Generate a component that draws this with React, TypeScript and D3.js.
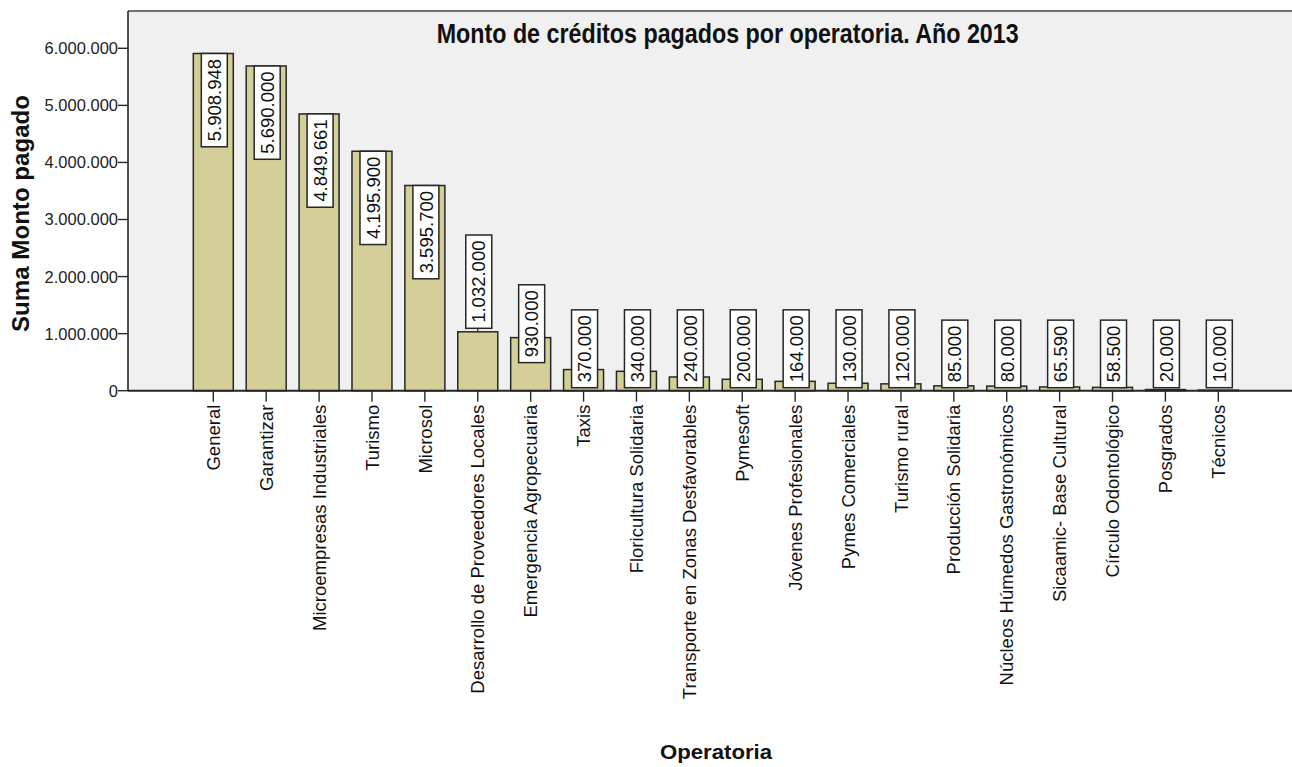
import React from "react";
import * as d3 from "d3";

const categories: string[] = [
  "General",
  "Garantizar",
  "Microempresas Industriales",
  "Turismo",
  "Microsol",
  "Desarrollo de Proveedores Locales",
  "Emergencia Agropecuaria",
  "Taxis",
  "Floricultura Solidaria",
  "Transporte en Zonas Desfavorables",
  "Pymesoft",
  "Jóvenes Profesionales",
  "Pymes Comerciales",
  "Turismo rural",
  "Producción Solidaria",
  "Núcleos Húmedos Gastronómicos",
  "Sicaamic- Base Cultural",
  "Círculo Odontológico",
  "Posgrados",
  "Técnicos",
];

const values: number[] = [
  5908948, 5690000, 4849661, 4195900, 3595700, 1032000, 930000, 370000, 340000,
  240000, 200000, 164000, 130000, 120000, 85000, 80000, 65590, 58500, 20000, 10000,
];

const yTicks: number[] = [0, 1000000, 2000000, 3000000, 4000000, 5000000, 6000000];

const title = "Monto de créditos pagados por operatoria. Año 2013";
const yTitle = "Suma Monto pagado";
const xTitle = "Operatoria";

const W = 1292;
const H = 767;
const plotLeft = 128;
const plotTop = 11;
const plotRight = 1292;

const loc = d3.formatLocale({
  decimal: ",",
  thousands: ".",
  grouping: [3],
  currency: ["", ""],
});
const fmt = loc.format(",d");

const BAR_FILL = "#d4cf98";
const LINE = "#262626";
const LABEL_FS = 18.5;

function textLen(s: string, fs: number) {
  let w = 0;
  for (const c of s) w += c === "." || c === "," ? 0.278 : 0.556;
  return w * fs;
}

export default function App() {
  const x = d3
    .scaleBand<string>()
    .domain(categories)
    .range([186.85, 1244.75])
    .paddingInner(0.244)
    .paddingOuter(0.122);
  const y = d3.scaleLinear().domain([0, 6000000]).range([390.7, 48.3]);
  const y0 = y(0);
  const bw = x.bandwidth();

  return (
    <svg
      width={W}
      height={H}
      style={{ position: "absolute", left: 0, top: 0, background: "#fff" }}
      fontFamily="'Liberation Sans', Arial, sans-serif"
    >
      <rect x={0} y={0} width={W} height={H} fill="#fff" />
      <rect
        x={plotLeft}
        y={plotTop}
        width={plotRight - plotLeft}
        height={y0 - plotTop}
        fill="#f0f0f0"
      />
      <line x1={plotLeft} x2={plotRight} y1={plotTop} y2={plotTop} stroke="#444" strokeWidth={1.6} />
      <line x1={plotLeft} x2={plotLeft} y1={plotTop} y2={y0} stroke={LINE} strokeWidth={1.6} />

      <text
        x={436.7}
        y={43.3}
        fontFamily="'Liberation Sans Narrow', 'Arial Narrow', 'Liberation Sans', Arial, sans-serif"
        fontWeight="bold"
        fontSize={28}
        textLength={582}
        lengthAdjust="spacingAndGlyphs"
        fill="#111"
      >
        {title}
      </text>

      {yTicks.map((t) => (
        <g key={t}>
          <line x1={plotLeft - 10} x2={plotLeft} y1={y(t)} y2={y(t)} stroke={LINE} strokeWidth={1.4} />
          <text
            x={plotLeft - 10}
            y={y(t)}
            dy="0.36em"
            textAnchor="end"
            fontSize={16.5}
            fill="#222"
          >
            {fmt(t)}
          </text>
        </g>
      ))}

      <text
        transform={`translate(28.5, ${213.5}) rotate(-90)`}
        textAnchor="middle"
        fontWeight="bold"
        fontSize={23.5}
        textLength={237}
        lengthAdjust="spacingAndGlyphs"
        fill="#111"
      >
        {yTitle}
      </text>

      {categories.map((c, i) => (
        <rect
          key={c}
          x={x(c)!}
          y={y(values[i])}
          width={bw}
          height={y0 - y(values[i])}
          fill={BAR_FILL}
          stroke={LINE}
          strokeWidth={1.5}
        />
      ))}

      {categories.map((c, i) => {
        const v = values[i];
        const s = fmt(v);
        const tl = textLen(s, LABEL_FS);
        const boxH = tl + 11;
        const boxW = 26;
        const cx = x(c)! + bw / 2 + 1;
        const top = y(v);
        const barH = y0 - top;
        let bTop: number;
        let leader = false;
        if (barH >= boxH) {
          bTop = top;
        } else if (v >= 1000000) {
          bTop = top - 3.5 - boxH;
          leader = true;
        } else {
          const bottom = Math.min(y0 - 3, top + 25);
          bTop = bottom - boxH;
        }
        return (
          <g key={"l" + c}>
            {leader && (
              <line x1={x(c)! + bw / 2} x2={x(c)! + bw / 2} y1={bTop + boxH} y2={top} stroke={LINE} strokeWidth={1.2} />
            )}
            <rect
              x={cx - boxW / 2}
              y={bTop}
              width={boxW}
              height={boxH}
              fill="#fff"
              stroke={LINE}
              strokeWidth={1.5}
            />
            <text
              transform={`translate(${cx}, ${bTop + boxH / 2}) rotate(-90)`}
              textAnchor="middle"
              dy="0.36em"
              fontSize={LABEL_FS}
              fill="#111"
            >
              {s}
            </text>
          </g>
        );
      })}

      <line x1={plotLeft} x2={plotRight} y1={y0} y2={y0} stroke={LINE} strokeWidth={1.9} />
      {categories.map((c) => {
        const cx = x(c)! + bw / 2;
        return (
          <g key={"t" + c}>
            <line x1={cx} x2={cx} y1={y0} y2={y0 + 11} stroke={LINE} strokeWidth={1.4} />
            <text
              transform={`translate(${cx}, ${y0 + 14}) rotate(-90)`}
              textAnchor="end"
              dy="0.36em"
              fontSize={18.5}
              fill="#111"
            >
              {c}
            </text>
          </g>
        );
      })}

      <text
        x={716}
        y={759}
        textAnchor="middle"
        fontWeight="bold"
        fontSize={21}
        textLength={112}
        lengthAdjust="spacingAndGlyphs"
        fill="#111"
      >
        {xTitle}
      </text>
    </svg>
  );
}
